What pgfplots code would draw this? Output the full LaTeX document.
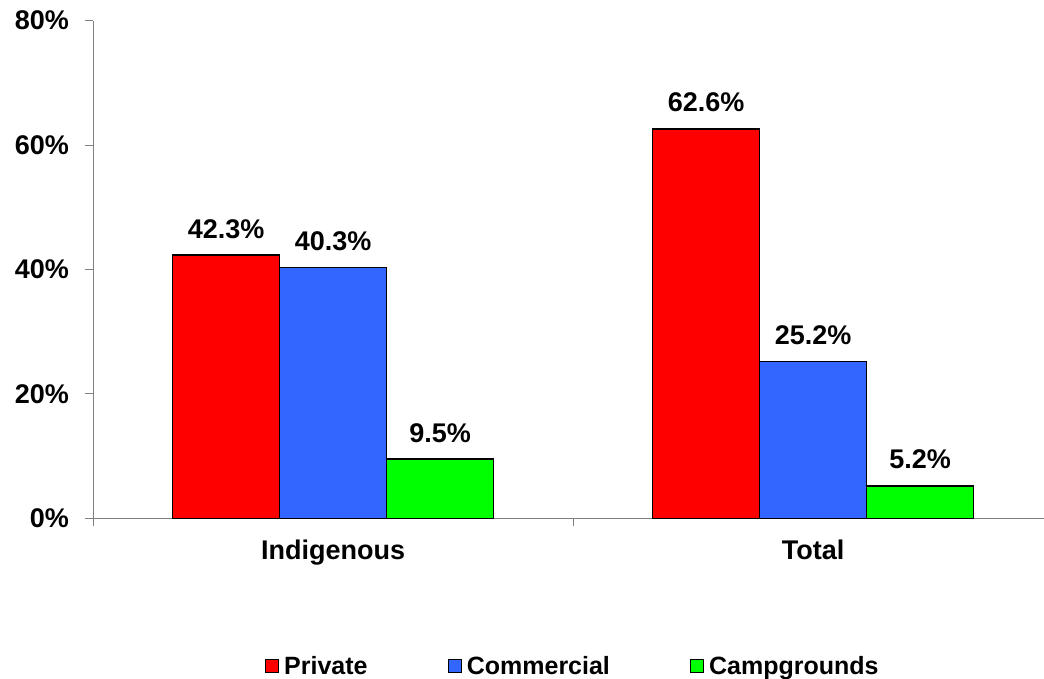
\documentclass[border=0pt]{standalone}
\usepackage{fontspec}
\setmainfont{Liberation Sans}
\usepackage{pgfplots}
\pgfplotsset{compat=1.18}
\definecolor{cRed}{HTML}{FF0000}
\definecolor{cBlue}{HTML}{3366FF}
\definecolor{cGreen}{HTML}{00FF00}
\definecolor{axgray}{HTML}{808080}
\begin{document}
\begin{tikzpicture}[x=1pt,y=1pt]
\useasboundingbox (0,0) rectangle (1044,678);
\begin{axis}[
  at={(93pt,159.7pt)}, anchor=south west,
  scale only axis, width=951pt, height=497.6pt,
  xmin=-0.5, xmax=1.481, ymin=0, ymax=80,
  axis x line*=bottom, axis y line*=left,
  axis line style={draw=axgray, line width=1pt},
  tick align=outside, major tick length=8pt,
  tick style={draw=axgray, line width=1pt},
  /pgf/number format/assume math mode=true,
  ytick={0,20,40,60,80},
  yticklabels={0\%,20\%,40\%,60\%,80\%},
  yticklabel style={font=\fontsize{27}{32}\selectfont\bfseries, inner sep=0pt, xshift=-16pt},
  xtick={-0.5,0.5}, xticklabels={,,},
  extra x ticks={0,1}, extra x tick labels={Indigenous,Total},
  extra x tick style={major tick length=0pt, xticklabel style={font=\fontsize{27}{32}\selectfont\bfseries, inner sep=0pt, anchor=north, yshift=-21pt}},
  ybar=0pt, bar width=107pt,
  nodes near coords={\pgfmathprintnumber[fixed,fixed zerofill,precision=1,assume math mode=true]{\pgfplotspointmeta}\%},
  nodes near coords style={font=\fontsize{27}{32}\selectfont\bfseries, inner sep=0pt, anchor=south, yshift=16pt, text=black},
  legend columns=3,
  legend style={at={(0.5035,-0.297)}, anchor=center, draw=none, fill=none,
    font=\fontsize{25}{30}\selectfont\bfseries,
    nodes={inner sep=0pt},
    /tikz/every odd column/.style={column sep=5pt},
    /tikz/column 2/.style={column sep=80pt},
    /tikz/column 4/.style={column sep=80pt}},
  legend image code/.code={\draw[#1,draw=black,line width=1.2pt] (0pt,-6.5pt) rectangle (13pt,6.5pt);},
  clip=false,
]
\addplot[fill=cRed, draw=black, line width=1.5pt] coordinates {(0,42.3) (1,62.6)};
\addplot[fill=cBlue, draw=black, line width=1.5pt] coordinates {(0,40.3) (1,25.2)};
\addplot[fill=cGreen, draw=black, line width=1.5pt] coordinates {(0,9.5) (1,5.2)};
\legend{Private,Commercial,Campgrounds}
\end{axis}
\end{tikzpicture}
\end{document}
